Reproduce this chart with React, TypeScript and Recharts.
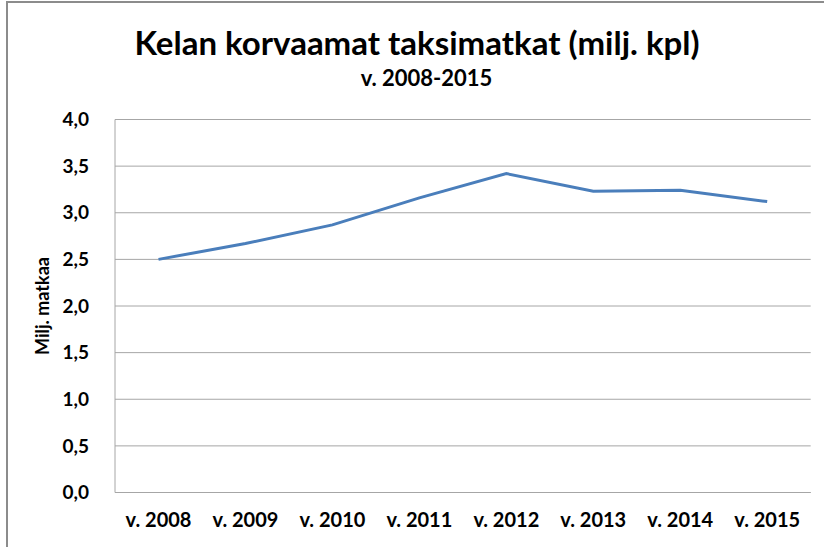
import { LineChart, Line, XAxis, YAxis, CartesianGrid, Label } from "recharts";

const years = ["v. 2008", "v. 2009", "v. 2010", "v. 2011", "v. 2012", "v. 2013", "v. 2014", "v. 2015"];
const trips = [2.5, 2.67, 2.87, 3.16, 3.42, 3.23, 3.24, 3.12];
const yTicks = [0, 0.5, 1, 1.5, 2, 2.5, 3, 3.5, 4];

const data = years.map((year, i) => ({ year, value: trips[i] }));

const FONT = "Lato, 'Open Sans', sans-serif";
const GRID = "#a6a6a6";

export default function App() {
  return (
    <div style={{ position: "absolute", left: 0, top: 0, width: 824, height: 547, background: "#fff", fontFamily: FONT }}>
      <div
        style={{
          position: "absolute",
          left: 6,
          top: 1,
          width: 818,
          height: 546,
          borderTop: "2px solid #8c8c8c",
          borderLeft: "2px solid #8c8c8c",
        }}
      />
      <div
        style={{
          position: "absolute",
          left: 0,
          top: 22,
          width: 834,
          textAlign: "center",
          fontSize: 33,
          fontWeight: 700,
          color: "#000",
        }}
      >
        Kelan korvaamat taksimatkat (milj. kpl)
      </div>
      <div
        style={{
          position: "absolute",
          left: 0,
          top: 64,
          width: 853,
          textAlign: "center",
          fontSize: 22,
          fontWeight: 700,
          color: "#000",
        }}
      >
        v. 2008-2015
      </div>
      <LineChart
        width={824}
        height={547}
        data={data}
        margin={{ top: 119.5, right: 13.3, bottom: 14.5, left: 55 }}
        style={{ position: "absolute", left: 0, top: 0 }}
      >
        <CartesianGrid vertical={false} stroke={GRID} strokeWidth={1} />
        <XAxis
          dataKey="year"
          height={40}
          axisLine={{ stroke: GRID }}
          tickLine={false}
          tickMargin={14}
          padding={{ left: 43.5, right: 43.5 }}
          tick={{ fontSize: 20, fontWeight: 700, fill: "#000", fontFamily: FONT }}
          interval={0}
        />
        <YAxis
          width={60}
          domain={[0, 4]}
          ticks={yTicks}
          axisLine={{ stroke: GRID }}
          tickLine={false}
          tickMargin={20}
          tickFormatter={(v: number) => v.toFixed(1).replace(".", ",")}
          tick={{ fontSize: 19, fontWeight: 700, fill: "#000", fontFamily: FONT }}
        >
          <Label
            value="Milj. matkaa"
            angle={-90}
            position="insideLeft"
            offset={-12}
            style={{ fontSize: 18, fontWeight: 700, fill: "#000", fontFamily: FONT, textAnchor: "middle" }}
          />
        </YAxis>
        <Line
          type="linear"
          dataKey="value"
          stroke="#4a7ebb"
          strokeWidth={3}
          dot={false}
          isAnimationActive={false}
        />
      </LineChart>
    </div>
  );
}
